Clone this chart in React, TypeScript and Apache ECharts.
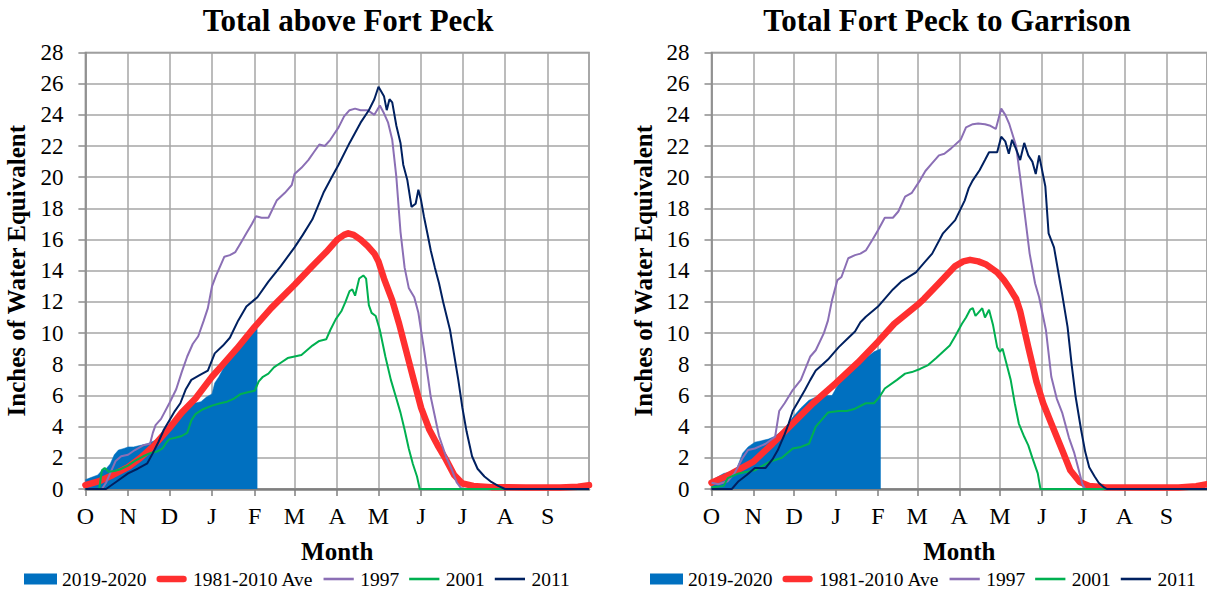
import React, { useEffect, useRef } from "react";
import * as echarts from "echarts";

// Day 0 = Oct 1 (water year 2019-2020, leap year)
const monthStarts = [0, 31, 61, 92, 123, 152, 183, 213, 244, 274, 305, 336];
const monthLetters = ["O", "N", "D", "J", "F", "M", "A", "M", "J", "J", "A", "S"];
const seriesNames = ["2019-2020", "1981-2010 Ave", "1997", "2001", "2011"];
const titles = ["Total above Fort Peck", "Total Fort Peck to Garrison"];

// ---- Total above Fort Peck ----
const fpNow = [[0,0.6],[3,0.7],[6,0.8],[9,0.9],[12,1.2],[15,1.3],[18,1.6],[21,2.2],[24,2.5],[28,2.6],[31,2.7],[35,2.7],[40,2.8],[45,2.9],[50,3.1],[55,3.35],[58,3.5],[61,3.8],[64,4.1],[67,4.5],[71,4.9],[75,5.3],[79,5.5],[84,5.6],[88,5.9],[92,6.1],[94,6.8],[97,7.2],[100,7.7],[103,8.1],[107,8.5],[111,8.9],[115,9.3],[119,9.8],[123,10.2],[125,10.3]];
const fpAvg = [[0,0.25],[10,0.5],[20,0.9],[31,1.4],[40,2.0],[50,2.8],[61,3.9],[70,4.9],[80,5.8],[92,7.2],[100,8.0],[110,9.0],[123,10.4],[135,11.6],[152,13.1],[165,14.3],[175,15.2],[183,16.0],[188,16.3],[191,16.4],[195,16.3],[200,16.0],[205,15.6],[210,15.1],[213,14.6],[217,13.5],[223,12.1],[228,10.6],[233,8.9],[238,7.2],[244,5.2],[250,3.8],[256,2.8],[262,1.9],[268,0.9],[274,0.35],[282,0.2],[295,0.12],[320,0.1],[345,0.1],[358,0.15],[366,0.25]];
const fp1997 = [[0,0],[12,0],[15,0.4],[18,1.0],[22,1.8],[26,2.1],[31,2.2],[36,2.5],[42,2.8],[47,2.9],[49,3.6],[51,4.1],[55,4.5],[61,5.5],[66,6.4],[70,7.5],[74,8.5],[78,9.3],[82,9.8],[86,10.8],[89,11.6],[92,13.0],[95,13.7],[98,14.3],[101,14.9],[105,15.0],[109,15.2],[113,15.8],[117,16.4],[121,17.0],[124,17.5],[128,17.4],[133,17.4],[139,18.5],[145,19.0],[150,19.5],[152,20.2],[157,20.6],[162,21.1],[166,21.6],[170,22.1],[174,22.0],[178,22.4],[181,22.8],[184,23.2],[188,23.9],[192,24.3],[196,24.4],[200,24.3],[205,24.3],[210,24.0],[214,24.6],[217,24.1],[220,23.5],[223,22.4],[226,20.0],[229,16.5],[232,14.2],[235,12.9],[239,12.3],[242,11.3],[246,9.0],[251,5.9],[257,3.4],[262,2.1],[266,1.3],[270,0.4],[273,0.05],[276,0],[366,0]];
const fp2001 = [[0,0],[10,0],[12,1.2],[14,1.35],[17,1.1],[21,1.15],[25,1.25],[31,1.5],[36,1.8],[42,2.1],[47,2.3],[52,2.4],[56,2.6],[59,3.0],[61,3.2],[66,3.3],[70,3.4],[74,3.6],[77,4.4],[80,4.8],[85,5.1],[92,5.35],[98,5.5],[103,5.6],[108,5.8],[113,6.1],[118,6.2],[123,6.3],[126,6.9],[129,7.2],[133,7.4],[137,7.8],[142,8.1],[147,8.4],[152,8.5],[157,8.6],[161,8.9],[165,9.2],[170,9.5],[175,9.6],[178,10.2],[182,10.9],[186,11.4],[189,12.0],[192,12.7],[194,12.8],[196,12.4],[199,13.5],[202,13.7],[204,13.5],[206,11.8],[208,11.3],[211,11.1],[214,10.2],[218,8.5],[222,7.0],[226,5.8],[229,4.9],[232,3.8],[235,2.6],[238,1.6],[241,0.8],[243,0],[366,0]];
const fp2011 = [[0,0],[15,0],[23,0.5],[31,1.0],[38,1.3],[45,1.65],[49,2.3],[53,3.0],[57,3.8],[61,4.4],[65,5.0],[69,5.5],[73,6.4],[77,7.0],[83,7.3],[89,7.6],[94,8.7],[100,9.2],[105,9.7],[111,10.8],[117,11.7],[125,12.3],[133,13.3],[142,14.3],[152,15.5],[158,16.3],[165,17.3],[173,19.0],[179,20.0],[184,20.8],[192,22.2],[200,23.5],[206,24.3],[210,25.0],[213,25.8],[215,25.5],[217,25.2],[219,24.3],[221,25.0],[223,24.8],[226,23.3],[229,22.2],[231,20.8],[234,19.8],[237,18.1],[240,18.3],[242,19.2],[244,18.5],[246,17.5],[249,16.2],[251,15.3],[254,14.2],[257,13.2],[260,12.0],[265,10.2],[268,8.6],[271,7.0],[274,5.2],[277,3.7],[281,2.1],[285,1.3],[290,0.8],[295,0.45],[300,0.2],[305,0],[366,0]];

// ---- Total Fort Peck to Garrison ----
const garNow = [[0,0.5],[3,0.7],[9,1.0],[15,1.1],[19,1.4],[23,2.3],[27,2.7],[32,3.0],[37,3.1],[42,3.2],[46,3.35],[52,3.7],[56,4.1],[60,4.6],[66,5.2],[72,5.7],[80,6.0],[89,6.0],[93,6.6],[100,7.4],[106,7.95],[114,8.4],[120,8.8],[125,9.0]];
const garAvg = [[0,0.4],[8,0.7],[15,1.0],[31,1.75],[45,2.9],[60,4.2],[75,5.5],[92,6.8],[108,8.1],[123,9.45],[135,10.6],[152,11.8],[157,12.2],[168,13.2],[180,14.3],[186,14.6],[191,14.7],[197,14.6],[203,14.4],[211,13.9],[216,13.4],[220,12.9],[225,12.2],[228,11.4],[234,9.1],[240,6.9],[245,5.5],[251,4.2],[259,2.5],[265,1.2],[272,0.45],[279,0.2],[290,0.12],[320,0.1],[345,0.1],[358,0.18],[366,0.3]];
const gar1997 = [[0,0.4],[5,0.3],[12,0.5],[17,1.0],[23,2.0],[27,2.5],[32,2.6],[40,2.9],[47,3.35],[50,5.0],[54,5.5],[60,6.35],[66,7.0],[73,8.5],[77,8.9],[83,10.0],[86,10.8],[89,12.1],[93,13.4],[96,13.6],[101,14.8],[106,15.0],[110,15.1],[114,15.3],[119,16.0],[123,16.6],[128,17.4],[134,17.4],[138,17.8],[143,18.75],[148,19.0],[154,19.8],[158,20.4],[163,20.9],[168,21.4],[172,21.5],[177,21.85],[184,22.4],[188,23.2],[193,23.4],[197,23.45],[202,23.4],[206,23.3],[210,23.1],[214,24.4],[217,24.0],[220,23.4],[225,22.0],[228,20.0],[231,17.9],[235,15.1],[239,13.2],[242,12.3],[247,10.2],[251,7.2],[255,5.8],[259,4.9],[264,3.3],[268,2.3],[271,1.3],[274,0.3],[276,0],[366,0]];
const gar2001 = [[0,0.1],[9,0.2],[12,0.7],[20,1.0],[32,1.2],[43,1.75],[52,2.0],[60,2.6],[66,2.7],[72,2.9],[77,4.0],[82,4.5],[86,4.9],[94,5.0],[100,5.0],[106,5.15],[114,5.5],[120,5.5],[124,5.9],[128,6.45],[137,7.0],[143,7.4],[148,7.5],[154,7.7],[160,7.95],[166,8.4],[171,8.8],[176,9.2],[180,9.8],[185,10.6],[188,11.0],[191,11.5],[193,11.6],[195,11.1],[197,11.3],[200,11.6],[202,11.0],[205,11.5],[208,10.5],[211,9.1],[213,8.8],[215,9.0],[218,8.0],[221,7.0],[224,5.5],[227,4.2],[231,3.35],[234,2.8],[237,2.0],[241,1.0],[243,0],[366,0]];
const gar2011 = [[0,0],[15,0],[20,0.5],[26,0.9],[32,1.35],[40,1.35],[45,1.9],[49,2.5],[54,3.5],[57,4.2],[60,5.0],[64,5.6],[69,6.35],[73,7.0],[77,7.6],[81,7.9],[86,8.3],[94,9.1],[100,9.6],[106,10.1],[110,10.7],[114,11.05],[123,11.7],[134,12.8],[140,13.3],[151,13.9],[157,14.5],[163,15.1],[171,16.4],[180,17.25],[187,18.5],[190,19.3],[193,19.8],[198,20.45],[202,21.1],[205,21.6],[208,21.6],[211,21.6],[214,22.6],[217,22.3],[219.6,21.5],[222,22.4],[225,21.8],[228,21.1],[231,22.2],[234,21.4],[237,21.0],[239.5,20.2],[242,21.4],[246.6,19.4],[249,16.4],[253,15.5],[256,14.0],[259,12.5],[263,10.4],[266,8.0],[269,5.9],[273,3.8],[276,2.4],[279,1.4],[283,0.8],[286,0.4],[290,0.1],[292,0],[366,0]];

const COLORS = ["#0070C0", "#FF2F2F", "#8B6FB5", "#00B050", "#002060"];
const FONT = "'Liberation Serif', 'Times New Roman', serif";

// legend icon shapes (bounding box 33 x 12, drawn band inside)
const ICON_RECT = "rect";
const ICON_THICK = "path://M0,0M33,12M3.5,2.5L29.5,2.5A3.5,3.5,0,0,1,29.5,9.5L3.5,9.5A3.5,3.5,0,0,1,3.5,2.5Z";
const ICON_THIN = "path://M0,0M33,12M0,4.6L33,4.6L33,7.4L0,7.4Z";

function buildSeries(gridIdx: number, data: number[][][]) {
  return data.map((d, i) => {
    const base: any = {
      name: seriesNames[i],
      type: "line",
      xAxisIndex: gridIdx,
      yAxisIndex: gridIdx,
      data: d,
      symbol: "none",
      showSymbol: false,
      z: 2 + i,
      color: COLORS[i],
      itemStyle: { color: COLORS[i] },
    };
    if (i === 0) {
      base.lineStyle = { width: 0.5, color: COLORS[0] };
      base.areaStyle = { color: COLORS[0], opacity: 1 };
    } else if (i === 1) {
      base.lineStyle = { width: 6.5, color: COLORS[1], cap: "round", join: "round" };
    } else {
      base.lineStyle = { width: 2, color: COLORS[i] };
    }
    return base;
  });
}

function App() {
  const ref = useRef<HTMLDivElement>(null);
  useEffect(() => {
    document.body.style.margin = "0";
    const chart = echarts.init(ref.current!, null, { renderer: "svg" });
    const grids = [
      { left: 85.4, right: 1207 - 589, top: 52.5, bottom: 590 - 489 },
      { left: 711.5, right: -3, top: 52.5, bottom: 590 - 489 },
    ];
    const xAxes = grids.map((_, gi) => ({
      type: "value",
      gridIndex: gi,
      min: 0,
      max: 366,
      name: "Month",
      nameLocation: "middle",
      nameGap: 50,
      nameTextStyle: { fontFamily: FONT, fontSize: 25, fontWeight: "bold", color: "#000" },
      axisLine: { show: true, lineStyle: { color: "#7f7f7f", width: 2.5 } },
      axisTick: { show: true, customValues: monthStarts, length: 7, inside: false, lineStyle: { color: "#7f7f7f", width: 1.5 } },
      axisLabel: {
        customValues: monthStarts,
        margin: 15,
        fontFamily: FONT,
        fontSize: 24,
        color: "#000",
        formatter: (v: number) => {
          const k = monthStarts.indexOf(Math.round(v));
          return k >= 0 ? monthLetters[k] : "";
        },
      },
      splitLine: { show: true, lineStyle: { color: "#a6a6a6", width: 1.5 } },
    }));
    const yAxes = grids.map((_, gi) => ({
      type: "value",
      gridIndex: gi,
      min: 0,
      max: 28,
      interval: 2,
      name: "Inches of Water Equivalent",
      nameLocation: "middle",
      nameGap: 56,
      nameTextStyle: { fontFamily: FONT, fontSize: 25, fontWeight: "bold", color: "#000" },
      axisLine: { show: true, lineStyle: { color: "#8c8c8c", width: 1.5 } },
      axisTick: { show: true, length: 7, inside: false, lineStyle: { color: "#8c8c8c", width: 1.5 } },
      axisLabel: { margin: 22, fontFamily: FONT, fontSize: 23, color: "#000" },
      splitLine: { show: true, lineStyle: { color: "#a6a6a6", width: 1.5 } },
    }));
    const legendData = seriesNames.map((n, i) => ({
      name: n,
      icon: i === 0 ? ICON_RECT : i === 1 ? ICON_THICK : ICON_THIN,
      itemStyle: { color: COLORS[i], borderWidth: 0 },
    }));
    const legends = [24, 650].map((l) => ({
      left: l,
      top: 569,
      itemWidth: 33,
      itemHeight: 11,
      itemGap: 10,
      padding: 0,
      selectedMode: false,
      textStyle: { fontFamily: FONT, fontSize: 19.5, color: "#000" },
      data: legendData,
    }));
    chart.setOption({
      animation: false,
      backgroundColor: "#fff",
      textStyle: { fontFamily: FONT },
      title: [
        { text: titles[0], left: 348, top: 5, textAlign: "center", padding: 0, textStyle: { fontFamily: FONT, fontSize: 31, fontWeight: "bold", color: "#000" } },
        { text: titles[1], left: 947, top: 5, textAlign: "center", padding: 0, textStyle: { fontFamily: FONT, fontSize: 31, fontWeight: "bold", color: "#000" } },
      ],
      legend: legends,
      grid: grids.map((g) => ({ ...g, show: true, borderColor: "#8c8c8c", borderWidth: 1.5, backgroundColor: "transparent" })),
      xAxis: xAxes,
      yAxis: yAxes,
      series: [
        ...buildSeries(0, [fpNow, fpAvg, fp1997, fp2001, fp2011]),
        ...buildSeries(1, [garNow, garAvg, gar1997, gar2001, gar2011]),
      ],
    });
    return () => chart.dispose();
  }, []);
  return <div ref={ref} style={{ width: 1207, height: 590, position: "absolute", left: 0, top: 0 }} />;
}

export default App;
